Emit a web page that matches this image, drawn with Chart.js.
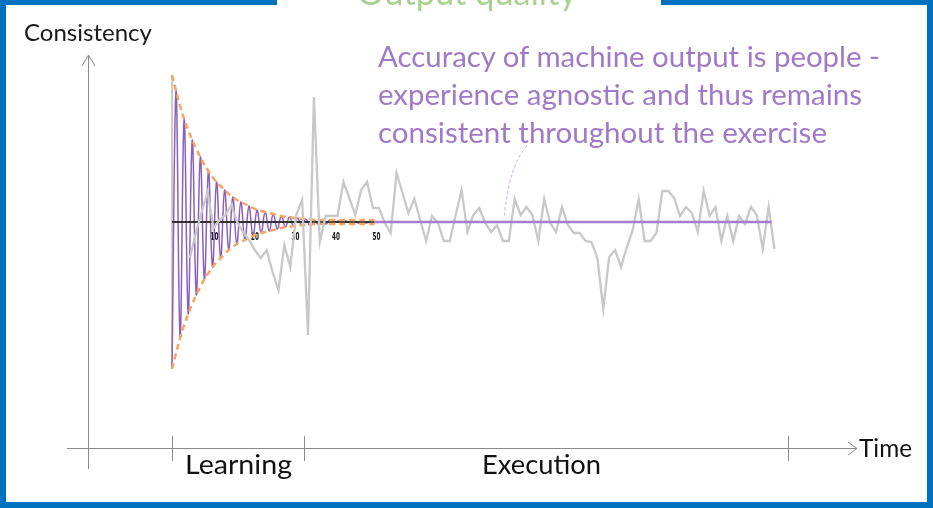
<!DOCTYPE html>
<html><head><meta charset="utf-8">
<script src="https://cdn.jsdelivr.net/npm/chart.js@4.4.1/dist/chart.umd.min.js"></script>
<style>
html,body{margin:0;padding:0;background:#fff;}
#wrap{position:relative;width:933px;height:508px;overflow:hidden;background:#fff;}
#c{position:absolute;left:0;top:0;}
.t{position:absolute;white-space:nowrap;font-family:Lato,'Open Sans',sans-serif;line-height:1.2;transform-origin:0 0;}
</style></head><body>
<div id="wrap"><canvas id="c" width="933" height="508"></canvas></div>
<script>
// ---- data (arbitrary consistency units, 0 = perfectly consistent) ----
const learningSteps = Array.from({length:51},(_,i)=>i);          // time steps of the learning phase
const learningOscillation = [-145,131,-116,103,-92,82,-73,65,-57,51,-45,40,-36,32,-28,25,-22,20,-18,16,
  -14,12,-11,10,-9,8,-7,6,-5,5,-4,4,-3,3,-3,2,-2,2,-2,2,-1,1,-1,1,-1,1,-1,1,-1,1,-1];
const envelopeUpper = [147,131,116,103,92,82,73,65,57,51,45,40,36,32,28,25,22,20,18,16,14,12,11,10,9,8,7,6,5,5,
  4,4,3,3,3,2,2,2,2,2,2,2,2,2,2,2,2,2,2,2,2];
const envelopeLower = [-147,-131,-116,-103,-92,-82,-73,-65,-57,-51,-45,-40,-36,-32,-28,-25,-22,-20,-18,-16,-14,-12,-11,-10,-9,-8,-7,-6,-5,-5,
  -4,-4,-3,-3,-3,-2,-2,-2,-2,-2,-2,-2,-2,-2,-2,-2,-2,-2,-2,-2,-2];
const machineSteps = [50, 148];
const machineLevel = [0, 0];
const baselineSteps = [0, 50];
const peopleOutput = [-36,-11,10,30,-6,2,7,17,0,-10,-18,-28,-36,-28,-50,-68,-23,-45,7,22,
  -113,125,-20,6,6,6,40,24,7,32,40,14,14,-1,-11,49,29,9,23,2,
  -19,6,-1,-19,-19,7,32,-10,7,14,-1,-10,-3,-19,-19,23,7,15,7,-19,
  23,-1,-10,15,-3,-11,-11,-19,-20,-36,-87,-35,-28,-45,-25,-8,23,-19,-19,-11,
  31,31,24,6,15,9,-10,31,6,15,-19,6,-19,6,-2,15,7,-27,15,-27];
const tickValues = [10,20,30,40,50];
const phaseBoundaries = [0, 32.6, 152];

// ---- chart ----
const pts = (xs, ys) => ys.map((v,i)=>({x:xs[i], y:v}));
const framePlugin = {
  id:'frame',
  beforeDatasetsDraw(chart){
    const c = chart.ctx, x = chart.scales.x, y = chart.scales.y;
    c.save();
    // slide axes
    c.strokeStyle = '#8a8a8a'; c.lineWidth = 1;
    c.beginPath();
    c.moveTo(88.5,55); c.lineTo(88.5,469);
    c.moveTo(82,66); c.lineTo(88.5,55); c.lineTo(95,66);
    c.moveTo(67,448.5); c.lineTo(857,448.5);
    c.moveTo(848,442); c.lineTo(857,448.5); c.lineTo(848,455);
    phaseBoundaries.forEach(v=>{ const px = Math.round(x.getPixelForValue(v))+0.5; c.moveTo(px,436); c.lineTo(px,461); });
    c.stroke();
    // small tick labels of the learning curve
    const y0 = y.getPixelForValue(0);
    c.fillStyle = '#111';
    c.font = 'bold 9px "DejaVu Sans Condensed", "Liberation Sans Narrow", sans-serif';
    c.textAlign = 'center'; c.textBaseline = 'middle';
    tickValues.forEach(v=>{
      c.save(); c.translate(x.getPixelForValue(v)+2, y0+15); c.scale(0.7,1.25); c.fillText(String(v),0,0); c.restore();
    });
    c.restore();
  },
  afterDraw(chart){
    const c = chart.ctx;
    c.save();
    // annotation leader
    c.strokeStyle = '#d49cf0'; c.lineWidth = 1; c.setLineDash([3,2.5]);
    c.beginPath(); c.moveTo(527,146); c.quadraticCurveTo(509,165,504,219); c.stroke();
    c.setLineDash([]);
    // slide frame
    c.fillStyle = '#0070c0';
    c.fillRect(0,0,6,508); c.fillRect(927,0,6,508); c.fillRect(0,502,933,6);
    c.fillRect(0,0,277,5); c.fillRect(661,0,272,5);
    c.restore();
  }
};

new Chart(document.getElementById('c'), {
  type:'line',
  data:{datasets:[
    {label:'Machine output', data:pts(machineSteps, machineLevel), borderColor:'#a47cd0', borderWidth:2.5, pointRadius:0, order:0},
    {label:'People output', data:peopleOutput.map((v,i)=>({x:i,y:v})), xAxisID:'xg', borderColor:'#c8c8c8', borderWidth:2.3, pointRadius:0, order:1},
    {label:'Envelope upper', data:pts(learningSteps, envelopeUpper), borderColor:'#f6a45e', borderWidth:2.5, borderDash:[6,4], tension:0.4, pointRadius:0, order:2},
    {label:'Envelope lower', data:pts(learningSteps, envelopeLower), borderColor:'#f6a45e', borderWidth:2.5, borderDash:[6,4], tension:0.4, pointRadius:0, order:2},
    {label:'Baseline', data:pts(baselineSteps, [0,0]), borderColor:'#333333', borderWidth:2, pointRadius:0, order:3},
    {label:'Learning', data:pts(learningSteps, learningOscillation), borderColor:'#8a60bd', borderWidth:1.5, tension:0.4, pointRadius:0, order:4},
    {label:'Inner axis', data:pts([0,0],[147,-147]), borderColor:'#c4c4c4', borderWidth:1, pointRadius:0, order:5}
  ]},
  options:{
    responsive:false, animation:false, events:[],
    layout:{padding:0},
    plugins:{legend:{display:false}, tooltip:{enabled:false}},
    scales:{
      x:{type:'linear', min:-172/4.05, max:761/4.05, display:false},
      xg:{type:'linear', min:-189.9/5.9055, max:(933-189.9)/5.9055, display:false},
      y:{type:'linear', min:-286, max:222, display:false}
    }
  },
  plugins:[framePlugin]
});

// ---- texts ----
const wrap = document.getElementById('wrap');
function place(text, left, baseline, width, size, color){
  const el = document.createElement('div');
  el.className = 't'; el.textContent = text;
  el.style.fontSize = size+'px'; el.style.color = color;
  el.style.left = left+'px'; el.style.top = '0px';
  wrap.appendChild(el);
  const natural = el.getBoundingClientRect().width;
  const strut = document.createElement('span');
  strut.style.cssText = 'display:inline-block;width:0;height:0;vertical-align:baseline;';
  el.appendChild(strut);
  const off = strut.offsetTop;
  el.style.top = (baseline - off)+'px';
  el.style.transform = 'scaleX('+(width/natural)+')';
}
place('Output quality', 357, 5, 220, 34, '#a9d18e');
place('Consistency', 24, 41, 128, 24, '#1a1a1a');
place('Accuracy of machine output is people -', 378, 67, 502, 29, '#a07ac9');
place('experience agnostic and thus remains', 378, 105, 484, 29, '#a07ac9');
place('consistent throughout the exercise', 378, 143, 449, 29, '#a07ac9');
place('Learning', 185, 474, 107, 27.5, '#111');
place('Execution', 482, 474, 119, 27.5, '#111');
place('Time', 859, 457, 53, 25, '#111');
</script>
</body></html>
